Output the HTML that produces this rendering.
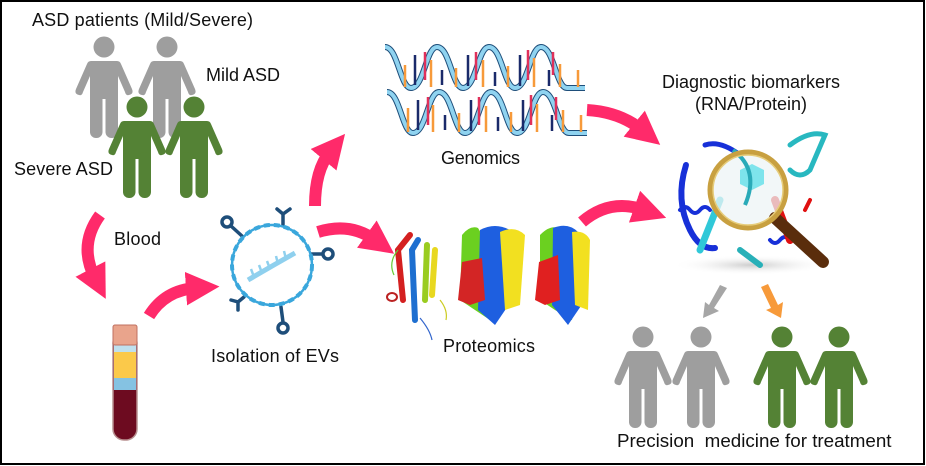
<!DOCTYPE html>
<html><head><meta charset="utf-8"><style>
html,body{margin:0;padding:0;background:#fff}
svg{display:block}
text{font-family:"Liberation Sans",Arial,sans-serif;font-size:18px;fill:#111}
</style></head><body>
<svg width="926" height="466" viewBox="0 0 926 466" xmlns="http://www.w3.org/2000/svg">
<defs>
<g id="p">
<circle cx="0" cy="0" r="10.5"/>
<path d="M-13,14 H13 Q16,14 17,17 L28,42 Q30,47 25,48 Q22,49 21,45 L14,29 V52 H-14 V29 L-21,45 Q-22,49 -25,48 Q-30,47 -28,42 L-17,17 Q-16,14 -13,14Z"/>
<rect x="-14" y="45" width="12.5" height="46" rx="6"/>
<rect x="1.5" y="45" width="12.5" height="46" rx="6"/>
</g>
<marker id="ah" viewBox="0 0 10 10" refX="3" refY="5" markerWidth="2.8" markerHeight="2.8" orient="auto" markerUnits="strokeWidth"><path d="M0,0 L10,5 L0,10Z" fill="#ff2a6a"/></marker>
<radialGradient id="sh"><stop offset="0" stop-color="#ccc"/><stop offset="1" stop-color="#fff" stop-opacity="0"/></radialGradient>
</defs>
<rect x="1" y="1" width="923" height="463" fill="#fff" stroke="#000" stroke-width="2"/>

<g fill="#9e9e9e"><use href="#p" x="104" y="47"/><use href="#p" x="167" y="47"/></g>
<g fill="#548235"><use href="#p" x="137" y="107"/><use href="#p" x="194" y="107"/></g>
<g fill="#9e9e9e"><use href="#p" x="643" y="337"/><use href="#p" x="701" y="337"/></g>
<g fill="#548235"><use href="#p" x="782" y="337"/><use href="#p" x="839" y="337"/></g>

<text x="32" y="26" textLength="221">ASD patients (Mild/Severe)</text>
<text x="206" y="81" textLength="74">Mild ASD</text>
<text x="14" y="175" textLength="99">Severe ASD</text>
<text x="114" y="245" textLength="47">Blood</text>
<text x="211" y="362" textLength="128">Isolation of EVs</text>
<text x="441" y="164" textLength="79">Genomics</text>
<text x="443" y="352" textLength="92">Proteomics</text>
<text x="751" y="88" text-anchor="middle">Diagnostic biomarkers</text>
<text x="751" y="110" text-anchor="middle">(RNA/Protein)</text>
<text x="617" y="447" style="font-size:18.8px" xml:space="preserve">Precision  medicine for treatment</text>

<g fill="none" stroke="#ff2a6a" stroke-width="12" marker-end="url(#ah)">
<path d="M100,215 Q78,245 95,278"/>
<path d="M149,316 Q165,290 196,288"/>
<path d="M315,206 Q315,170 330,152"/>
<path d="M318,232 Q350,222 375,240"/>
<path d="M587,110 Q620,112 642,130"/>
<path d="M582,222 Q610,198 644,210"/>
</g>
<path d="M720,285 L727,288 L714,308 L719,311 L703,318 L705,302 L709,305Z" fill="#a6a6a6"/>
<path d="M761,287 L768,284 L778,305 L783,302 L781,318 L766,310 L771,308Z" fill="#f79a3a"/>

<g>
<rect x="113" y="332" width="24" height="108" rx="11" fill="#6d0b20" stroke="#b89090" stroke-width="1.5"/>
<rect x="114" y="345" width="22" height="7" fill="#bfe0ee"/>
<rect x="114" y="352" width="22" height="26" fill="#fbc94a"/>
<rect x="114" y="378" width="22" height="12" fill="#85c2e2"/>
<rect x="113" y="325" width="24" height="20" rx="2" fill="#e9a48c" stroke="#c07060" stroke-width="1"/>
</g>

<g>
<g stroke="#1e4e7a" stroke-width="3.5" fill="none" stroke-linecap="round">
<line x1="242" y1="236" x2="231" y2="226"/><circle cx="227" cy="222" r="5"/>
<line x1="311" y1="254" x2="322" y2="254"/><circle cx="328" cy="254" r="5"/>
<line x1="281" y1="307" x2="283" y2="322"/><circle cx="283" cy="328" r="5"/>
<path d="M283,225 V214 M277,209 L283,214 L290,209"/>
<path d="M244,297 L238,302 M231,300 L238,302 L238,310"/>
</g>
<circle cx="272" cy="265" r="40" fill="#fff" stroke="#3aa7dc" stroke-width="4" stroke-dasharray="6 4"/>
<circle cx="272" cy="265" r="40" fill="none" stroke="#3aa7dc" stroke-width="2.5"/>
<path d="M248,280 Q272,266 295,253" stroke="#8fd0ee" stroke-width="5" fill="none"/>
<g stroke="#8fd0ee" stroke-width="2.5"><line x1="254" y1="277" x2="251" y2="269"/><line x1="262" y1="273" x2="259" y2="265"/><line x1="270" y1="269" x2="267" y2="261"/><line x1="278" y1="264" x2="276" y2="256"/><line x1="286" y1="259" x2="284" y2="251"/></g>
</g>

<g fill="none">
<path d="M385,47 C398,47 400,88 411,88 C424,88 426,47 437,47 C450,47 452,88 463,88 C476,88 478,47 489,47 C502,47 504,88 515,88 C528,88 530,47 541,47 C554,47 556,88 567,88 L585,88" stroke="#1e4e7a" stroke-width="6"/>
<path d="M385,47 C398,47 400,88 411,88 C424,88 426,47 437,47 C450,47 452,88 463,88 C476,88 478,47 489,47 C502,47 504,88 515,88 C528,88 530,47 541,47 C554,47 556,88 567,88 L585,88" stroke="#8fd3f0" stroke-width="4"/>
<g transform="translate(2,45)">
<path d="M385,47 C398,47 400,88 411,88 C424,88 426,47 437,47 C450,47 452,88 463,88 C476,88 478,47 489,47 C502,47 504,88 515,88 C528,88 530,47 541,47 C554,47 556,88 567,88 L585,88" stroke="#1e4e7a" stroke-width="6"/>
<path d="M385,47 C398,47 400,88 411,88 C424,88 426,47 437,47 C450,47 452,88 463,88 C476,88 478,47 489,47 C502,47 504,88 515,88 C528,88 530,47 541,47 C554,47 556,88 567,88 L585,88" stroke="#8fd3f0" stroke-width="4"/>
</g>
<g stroke-width="2.5">
<path d="M405,65V87 M431,60V87 M456,68V87 M483,60V87 M508,66V87 M534,58V87 M560,64V87 M578,70V87" stroke="#f79a3a"/>
<path d="M415,55V85 M442,70V85 M468,55V86 M495,72V86 M520,55V86 M549,70V86" stroke="#1a2a6a"/>
<path d="M425,52V80 M476,52V80 M528,50V80 M553,52V75" stroke="#e0305a"/>
<path d="M408,108V132 M433,105V132 M459,113V132 M486,106V132 M511,112V132 M537,104V132 M563,110V132 M581,115V132" stroke="#f79a3a"/>
<path d="M418,100V130 M445,115V130 M471,100V131 M498,117V131 M523,100V131 M552,115V131" stroke="#1a2a6a"/>
<path d="M428,97V125 M479,97V125 M531,95V125 M556,97V120" stroke="#e0305a"/>
</g>
</g>

<g>
<g fill="none" stroke-width="6" stroke-linecap="round">
<path d="M403,300 L398,250 L410,235" stroke="#d42020"/>
<path d="M415,320 L412,250 L418,240" stroke="#1e6fd0"/>
<path d="M425,300 L427,245" stroke="#9acc20"/>
<path d="M432,295 L435,250" stroke="#e8d820"/>
</g>
<g fill="none" stroke-width="1.2"><path d="M394,275 Q388,262 398,250" stroke="#6c3"/><path d="M420,318 Q430,330 432,340" stroke="#36c"/><path d="M440,300 Q448,310 446,320" stroke="#cc2"/></g>
<ellipse cx="392" cy="297" rx="5" ry="4" fill="none" stroke="#b22" stroke-width="2"/>
<g>
<path d="M462,235 Q470,225 478,228 L500,265 L490,320 L475,310 L460,300Z" fill="#6bd020"/>
<path d="M480,230 Q495,222 510,230 L512,300 L495,325 L478,310Z" fill="#1e5fe0"/>
<path d="M462,262 L482,258 L485,300 L470,305 L458,300Z" fill="#d32525"/>
<path d="M500,232 Q515,225 525,235 L520,305 L505,310Z" fill="#f2e020"/>
<path d="M540,235 Q550,225 558,228 L580,265 L572,320 L555,310 L540,300Z" fill="#6bd020"/>
<path d="M553,228 Q568,222 578,232 L585,300 L568,325 L552,305Z" fill="#1e5fe0"/>
<path d="M539,262 L558,255 L560,300 L545,305 L535,300Z" fill="#e02020"/>
<path d="M572,232 Q585,230 590,240 L588,310 L575,305Z" fill="#f2e020"/>
</g>
</g>

<g>
<ellipse cx="752" cy="265" rx="80" ry="10" fill="url(#sh)"/>
<g fill="none" stroke-linecap="round">
<path d="M686,165 Q675,200 690,230 Q700,250 715,248" stroke="#1730d8" stroke-width="6"/>
<path d="M705,145 Q720,140 740,155" stroke="#1730d8" stroke-width="5"/>
<path d="M680,210 q5,-6 10,0 q5,6 10,0 q5,-6 10,0" stroke="#1730d8" stroke-width="4"/>
<path d="M770,240 q5,6 10,0 q5,-6 10,0" stroke="#1730d8" stroke-width="4"/>
<path d="M790,145 Q810,130 825,135 L810,170 Q800,180 790,170" stroke="#28b8c0" stroke-width="5"/>
<path d="M700,250 L720,200" stroke="#30c8d8" stroke-width="7"/>
<path d="M740,250 L760,265" stroke="#28b0b8" stroke-width="6"/>
<path d="M775,200 L790,240" stroke="#e01010" stroke-width="8"/>
<path d="M810,200 L805,210" stroke="#e01010" stroke-width="4"/>
</g>
<circle cx="748" cy="190" r="36" fill="#eef4f6" fill-opacity="0.75"/>
<path d="M740,170 l12,-6 l12,6 l0,14 l-12,6 l-12,-6Z" fill="#7ee4ec"/>
<path d="M733,150 Q760,170 745,205" stroke="#2aaab8" stroke-width="4" fill="none"/>
<line x1="775" y1="218" x2="823" y2="262" stroke="#5a2d0c" stroke-width="12" stroke-linecap="round"/>
<circle cx="748" cy="190" r="38" fill="none" stroke="#c8a040" stroke-width="5"/>
<circle cx="748" cy="190" r="35" fill="none" stroke="#e6cc7a" stroke-width="1.5"/>
</g>
</svg>
</body></html>
